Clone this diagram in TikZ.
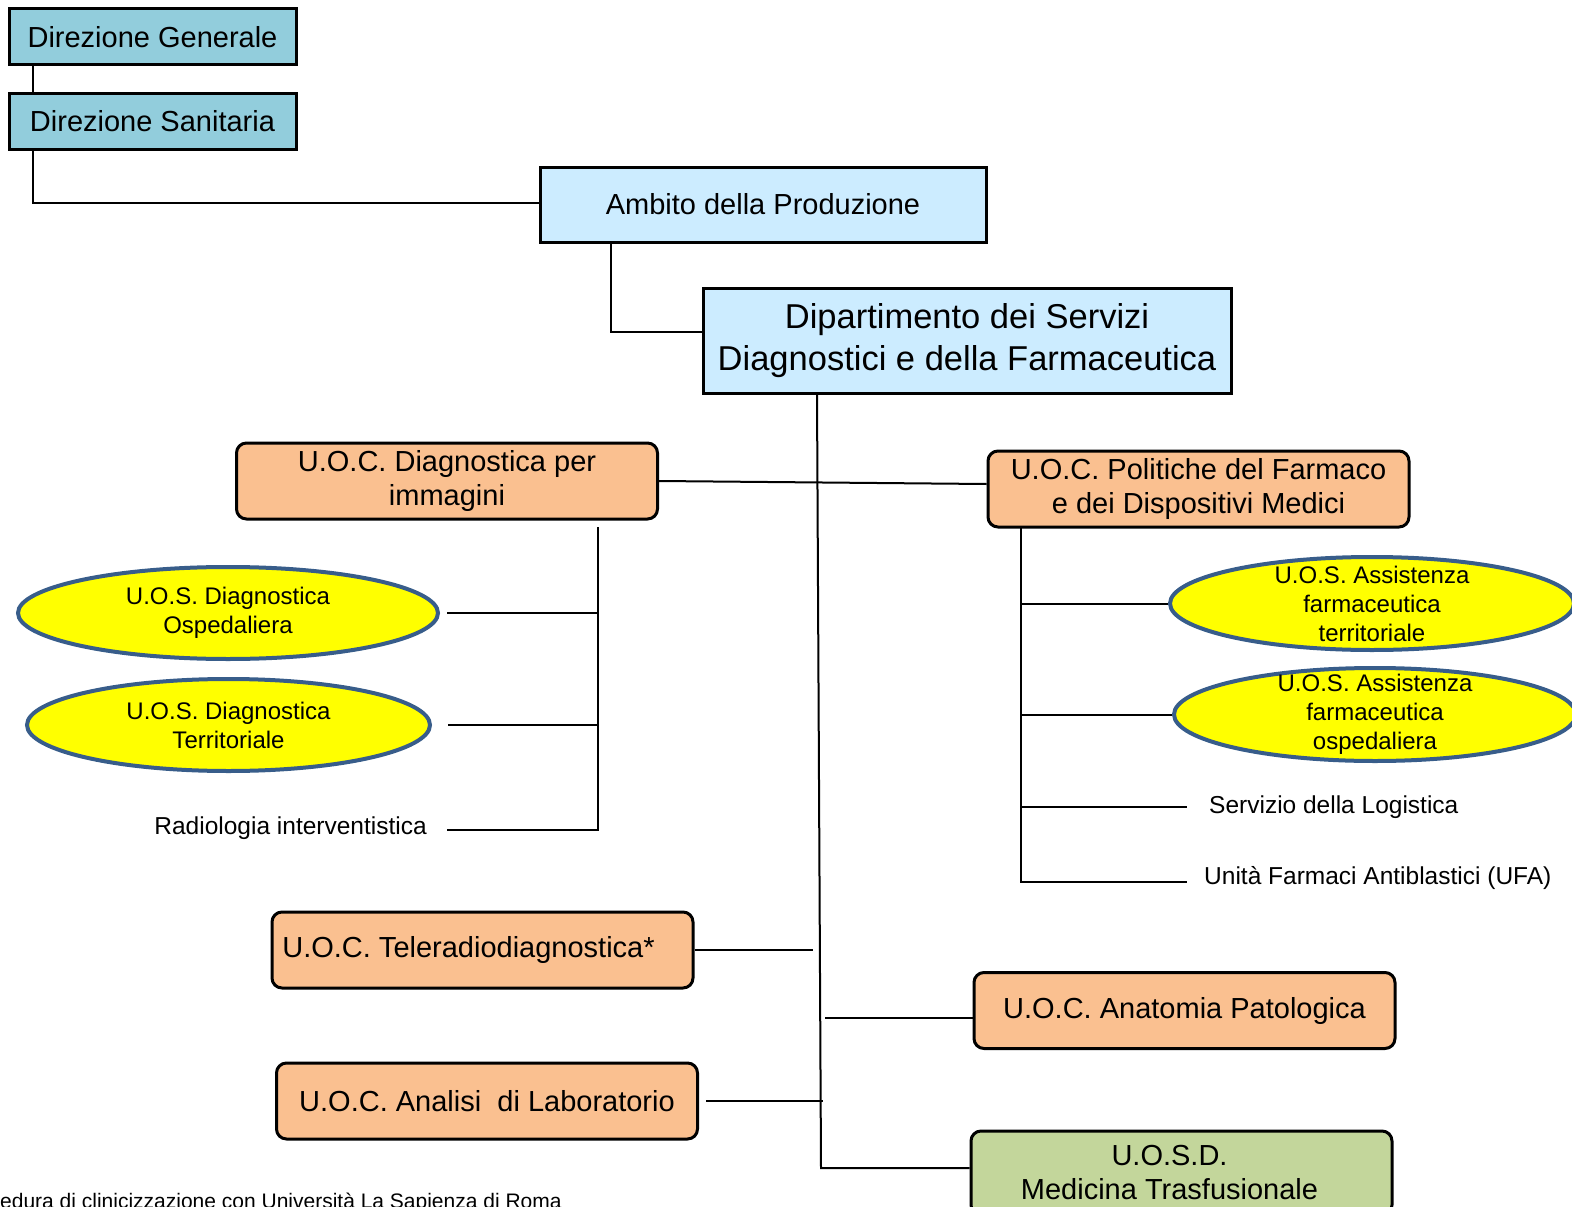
\documentclass[tikz,border=0pt]{standalone}
\usepackage{fontspec}
\setmainfont{Liberation Sans}
\usetikzlibrary{shapes.geometric}
\definecolor{dirblue}{HTML}{92CDDC}
\definecolor{ambblue}{HTML}{CCECFF}
\definecolor{uocpeach}{HTML}{FAC090}
\definecolor{uosdgreen}{HTML}{C3D69B}
\definecolor{uosedge}{HTML}{385D8A}
\definecolor{uosyellow}{HTML}{FFFF00}
\begin{document}
\begin{tikzpicture}[x=1pt,y=-1pt]
        \tikzstyle{every node}=[inner sep=0pt]
        \tikzstyle{conn}=[line width=2pt]
        \tikzstyle{dirbox}=[rectangle,draw,line width=3pt,fill=dirblue,minimum width=287pt,minimum height=56pt,font=\fontsize{29}{34}\selectfont]
        \tikzstyle{ambbox}=[rectangle,draw,line width=3pt,fill=ambblue,align=center]
        \tikzstyle{uocbox}=[rectangle,draw,line width=3pt,rounded corners=10pt,fill=uocpeach,align=center,minimum width=421pt,minimum height=76pt,font=\fontsize{29}{34}\selectfont]
        \tikzstyle{uosell}=[ellipse,draw=uosedge,line width=4pt,fill=uosyellow]
        \tikzstyle{uostext}=[align=center,font=\fontsize{24}{29}\selectfont]
        \tikzstyle{plain}=[font=\fontsize{24.5}{29}\selectfont]

        \useasboundingbox (0,0) rectangle (1572,1207);
        \clip (0,0) rectangle (1572,1207);

        \node[dirbox] (dg) at (152.5,37) {Direzione Generale};
        \node[dirbox] (ds) at (152.5,121.5) {Direzione Sanitaria};
        \node[ambbox,minimum width=446pt,minimum height=75pt,font=\fontsize{29}{34}\selectfont] (amb) at (763,204.5) {Ambito della Produzione};
        \node[ambbox,minimum width=528pt,minimum height=105pt,font=\fontsize{34.5}{42}\selectfont] (dip) at (967,340.5) {Dipartimento dei Servizi\\Diagnostici e della Farmaceutica};

        \node[uocbox] (diag)  at (447,481)    {U.O.C. Diagnostica per\\immagini};
        \node[uocbox] (polit) at (1198.5,489) {U.O.C. Politiche del Farmaco\\e dei Dispositivi Medici};
        \node[uocbox] (tele)  at (482.5,950)  {U.O.C. Teleradiodiagnostica*\hspace*{28pt}};
        \node[uocbox] (anat)  at (1184.5,1010.5) {U.O.C. Anatomia Patologica};
        \node[uocbox] (anal)  at (487,1101)   {U.O.C. Analisi\ \ di Laboratorio};
        \node[uocbox,fill=uosdgreen,minimum height=84pt] (trasf) at (1181.5,1173) {U.O.S.D.\hspace*{24pt}\\Medicina Trasfusionale\hspace*{24pt}};

        \node[uosell,minimum width=420pt,minimum height=92pt,label={[uostext]center:{U.O.S. Diagnostica\\Ospedaliera}}] (uososp) at (228,613) {};
        \node[uosell,minimum width=403pt,minimum height=92pt,label={[uostext]center:{U.O.S. Diagnostica\\Territoriale}}] (uosterr) at (228.5,725) {};
        \node[uosell,minimum width=404pt,minimum height=93pt,label={[uostext]center:{U.O.S. Assistenza\\farmaceutica\\territoriale}}] (uosfterr) at (1372,603.5) {};
        \node[uosell,minimum width=402pt,minimum height=93pt,label={[uostext]center:{U.O.S. Assistenza\\farmaceutica\\ospedaliera}}] (uosfosp) at (1375,714.5) {};

        \node[plain,anchor=east] (radio) at (427,828) {Radiologia interventistica};
        \node[plain,anchor=west] (logi) at (1209,807) {Servizio della Logistica};
        \node[plain,anchor=west] (ufa) at (1204,878) {Unità Farmaci Antiblastici (UFA)};
        \node[font=\fontsize{21}{25}\selectfont,anchor=base west] (nota) at (0,1208) {edura di clinicizzazione con Università La Sapienza di Roma};

        % vertici
        \coordinate (mtop) at ([xshift=-150pt]dip.south);
        \coordinate (mbot) at (821,1168);
        \coordinate (lbt) at (598,527);
        \coordinate (lbb) at (598,830);
        \coordinate (rbt) at (1021,527);
        \coordinate (rbb) at (1021,882);

        \draw[conn] ([xshift=25pt]dg.south west) -- ([xshift=25pt]ds.north west);
        \draw[conn] ([xshift=25pt]ds.south west) |- ([yshift=1.5pt]amb.west);
        \draw[conn] ([xshift=72pt]amb.south west) |- ([yshift=8.5pt]dip.west);

        \draw[conn] (mtop) -- (mbot) -- (trasf.west |- mbot);
        \draw[conn] (diag.east) -- ([yshift=5pt]polit.west);
        \draw[conn] (tele.east) -- (813,950);
        \draw[conn] (825,1018) -- (anat.west |- 0,1018);
        \draw[conn] ([xshift=7pt]anal.east) -- (823,1101);

        \draw[conn] (lbt) -- (lbb) -- ([xshift=20pt]radio.east |- lbb);
        \draw[conn] ([xshift=7pt]uososp.east) -- (uososp.east -| lbt);
        \draw[conn] ([xshift=16pt]uosterr.east) -- (uosterr.east -| lbt);

        \draw[conn] (rbt) -- (rbb) -- ([xshift=-17pt]ufa.west |- rbb);
        \draw[conn] (rbt |- uosfterr.west) -- (uosfterr.west);
        \draw[conn] (rbt |- uosfosp.west) -- (uosfosp.west);
        \draw[conn] (rbt |- logi) -- ([xshift=-22pt]logi.west);
\end{tikzpicture}
\end{document}
